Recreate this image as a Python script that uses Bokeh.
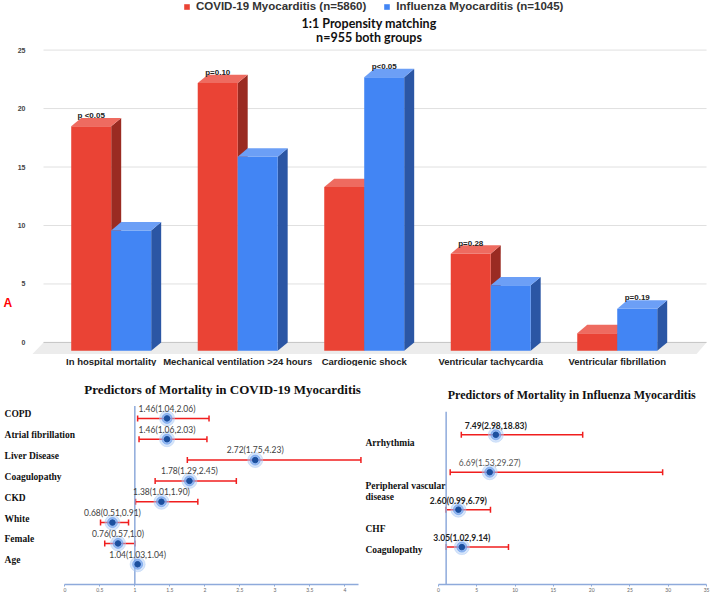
import numpy as np
from bokeh.plotting import figure
from bokeh.layouts import column, row
from bokeh.models import (ColumnDataSource, Range1d, FixedTicker, Label, Legend,
                          LegendItem, Whisker, TeeHead)
from bokeh.core.properties import value
from bokeh.embed import file_html
from bokeh.resources import INLINE

# ---------------- data: top 3D bar chart ----------------
categories = ["In hospital mortality", "Mechanical ventilation >24 hours",
              "Cardiogenic shock", "Ventricular tachycardia", "Ventricular fibrillation"]
covid_pct = [19.2, 22.9, 14.0, 8.3, 1.5]
influenza_pct = [10.3, 16.6, 23.4, 5.6, 3.6]
p_labels = ["p <0.05", "p=0.10", "p<0.05", "p=0.28", "p=0.19"]
p_on_series = ["covid", "covid", "influenza", "covid", "influenza"]
y_ticks = [0, 5, 10, 15, 20, 25]
series_names = ["COVID-19 Myocarditis (n=5860)", "Influenza Myocarditis (n=1045)"]
subtitle_lines = ["1:1 Propensity matching", "n=955 both groups"]

# ---------------- data: forest plot, COVID-19 ----------------
covid_title = "Predictors of Mortality in COVID-19 Myocarditis"
covid_predictors = ["COPD", "Atrial fibrillation", "Liver Disease", "Coagulopathy",
                    "CKD", "White", "Female", "Age"]
covid_or = [1.46, 1.46, 2.72, 1.78, 1.38, 0.68, 0.76, 1.04]
covid_lo = [1.04, 1.06, 1.75, 1.29, 1.01, 0.51, 0.57, 1.03]
covid_hi = [2.06, 2.03, 4.23, 2.45, 1.90, 0.91, 1.0, 1.04]
covid_or_labels = ["1.46(1.04,2.06)", "1.46(1.06,2.03)", "2.72(1.75,4.23)", "1.78(1.29,2.45)",
                   "1.38(1.01,1.90)", "0.68(0.51,0.91)", "0.76(0.57,1.0)", "1.04(1.03,1.04)"]
covid_x_ticks = [0, 0.5, 1, 1.5, 2, 2.5, 3, 3.5, 4]

# ---------------- data: forest plot, Influenza ----------------
flu_title = "Predictors of Mortality in Influenza Myocarditis"
flu_predictors = ["Arrhythmia", "Peripheral vascular\ndisease", "CHF", "Coagulopathy"]
flu_or = [7.49, 6.69, 2.60, 3.05]
flu_lo = [2.98, 1.53, 0.99, 1.02]
flu_hi = [18.83, 29.27, 6.79, 9.14]
flu_or_labels = ["7.49(2.98,18.83)", "6.69(1.53,29.27)", "2.60(0.99,6.79)", "3.05(1.02,9.14)"]
flu_x_ticks = [0, 5, 10, 15, 20, 25, 30, 35]

# ---------------- styles ----------------
RED, RED_TOP, RED_SIDE = "#EA4335", "#EE6B60", "#9A2B22"
BLUE, BLUE_TOP, BLUE_SIDE = "#4285F4", "#6C9FF6", "#2B56A4"
AXIS_BLUE = "#8EAADB"
ERR_RED = "#F01E1E"
BAR_W, DX, DY = 0.316, 0.079, 0.72

# =============== top figure ===============
TOP_H = 366
top = figure(width=712, height=TOP_H, x_range=Range1d(-0.875, 4.753),
             y_range=Range1d(-2.06, 29.24), output_backend="svg",
             toolbar_location=None, x_axis_location=None, y_axis_location=None,
             min_border_left=0, min_border_right=0, min_border_top=0, min_border_bottom=0)
top.grid.visible = False
top.outline_line_color = None
top.background_fill_color = "white"

# y tick labels
top.text(x=-0.678, y=y_ticks, text=[str(t) for t in y_ticks], text_align="right",
         text_baseline="middle", text_font=value("Liberation Sans"), text_font_style="bold",
         text_font_size="7px", text_color="#444444")

# floor
top.patch([-0.535, 4.706, 4.627, -0.622], [0, 0, -0.99, -0.99], fill_color="#ECECEC", line_color=None)
# gridlines
top.segment(x0=-0.535, x1=4.706, y0=y_ticks, y1=y_ticks,
            line_color=["#C4C4C4"] + ["#E0E0E0"] * (len(y_ticks) - 1), line_width=1)

xs = np.arange(len(categories), dtype=float)


def bar3d(fig, lefts, vals, front, topc, side):
    vals = np.array(vals, dtype=float)
    rights = lefts + BAR_W
    side_x = [[r, r + DX, r + DX, r] for r in rights]
    side_y = [[-DY, 0, v, v - DY] for v in vals]
    fig.patches(side_x, side_y, fill_color=side, line_color=None)
    src = ColumnDataSource(dict(left=lefts, right=rights, bottom=np.full(len(vals), -DY), top=vals - DY))
    rend = fig.quad(left="left", right="right", bottom="bottom", top="top", source=src,
                    fill_color=front, line_color=None)
    top_x = [[l, l + BAR_W, l + BAR_W + DX, l + DX] for l in lefts]
    top_y = [[v - DY, v - DY, v, v] for v in vals]
    fig.patches(top_x, top_y, fill_color=topc, line_color=None)
    return rend


r_covid = bar3d(top, xs - BAR_W, covid_pct, RED, RED_TOP, RED_SIDE)
r_flu = bar3d(top, xs, influenza_pct, BLUE, BLUE_TOP, BLUE_SIDE)

# p-value labels
p_x, p_y = [], []
for i, s in enumerate(p_on_series):
    if s == "covid":
        p_x.append(xs[i] - BAR_W / 2)
        p_y.append(covid_pct[i] + 0.2)
    else:
        p_x.append(xs[i] + BAR_W / 2)
        p_y.append(influenza_pct[i] + 0.2)
top.text(x=p_x, y=p_y, text=p_labels, text_align="center", text_baseline="middle",
         text_font=value("Liberation Sans"), text_font_style="bold", text_font_size="8px",
         text_color="#222222")

# category labels
top.text(x=xs, y=-1.62, text=categories, text_align="center", text_baseline="middle",
         text_font=value("Liberation Sans"), text_font_style="bold", text_font_size="9.5px",
         text_color="#222222")

# subtitles
for t, yy in zip(subtitle_lines, [27.26, 26.04]):
    top.add_layout(Label(x=2.038, y=yy, text=t, text_align="center", text_baseline="middle",
                         text_font="Lato", text_font_style="bold", text_font_size="12.5px",
                         text_color="#111111"))
# panel letter
top.text(x=[-0.851], y=[3.39], text=["A"], text_align="left", text_baseline="middle",
         text_font=value("Liberation Sans"), text_font_style="bold", text_font_size="12px",
         text_color="#FF0000")

legend = Legend(items=[LegendItem(label=series_names[0], renderers=[r_covid]),
                       LegendItem(label=series_names[1], renderers=[r_flu])],
                orientation="horizontal", location=(183, TOP_H - 12), padding=0, margin=0,
                spacing=17, label_standoff=6, glyph_width=7, glyph_height=7, label_height=10,
                label_text_font="Liberation Sans", label_text_font_style="bold",
                label_text_font_size="11.5px", label_text_color="#333333",
                background_fill_alpha=0, border_line_alpha=0)
top.add_layout(legend)


# =============== forest plots ===============
BOT_H = 228


def forest(width, x_range, y_range, x_ticks, bounds):
    f = figure(width=width, height=BOT_H, x_range=Range1d(*x_range), y_range=Range1d(*y_range),
               output_backend="svg", toolbar_location=None, y_axis_location=None,
               min_border_left=0, min_border_right=0, min_border_top=0, min_border_bottom=10)
    f.grid.visible = False
    f.outline_line_color = None
    ax = f.xaxis[0]
    ax.ticker = FixedTicker(ticks=x_ticks)
    ax.bounds = bounds
    ax.axis_line_color = AXIS_BLUE
    ax.axis_line_width = 1.5
    ax.major_tick_line_color = AXIS_BLUE
    ax.major_tick_in = 0
    ax.major_tick_out = 2
    ax.minor_tick_line_color = None
    ax.major_label_standoff = 1
    ax.major_label_text_font_size = "5px"
    ax.major_label_text_font = "Lato"
    ax.major_label_text_color = "#666666"
    return f


def draw_points(f, ors, ys):
    f.scatter(ors, ys, size=15, color="#A9C8F5", alpha=0.45)
    f.scatter(ors, ys, size=10, color="#6EA0EC", alpha=0.65)
    f.scatter(ors, ys, size=5.5, color="#1B4F9E")


# ---- left (COVID-19)
nL = len(covid_predictors)
yL = np.arange(nL, 0, -1, dtype=float)
left = forest(364, (-0.919, 4.281), (0.029, 10.49), covid_x_ticks, (0, 4.2))
left.segment(x0=1, x1=1, y0=8.6, y1=0.029, line_color=AXIS_BLUE, line_width=1.5)
srcL = ColumnDataSource(dict(y=yL, lo=covid_lo, hi=covid_hi))
left.add_layout(Whisker(source=srcL, base="y", lower="lo", upper="hi", dimension="width",
                        line_color=ERR_RED, line_width=1.5,
                        upper_head=TeeHead(size=6, line_color=ERR_RED, line_width=1.5),
                        lower_head=TeeHead(size=6, line_color=ERR_RED, line_width=1.5)))
draw_points(left, covid_or, yL)
left.text(x=covid_or, y=yL + 0.46, text=covid_or_labels, text_align="center", text_baseline="middle",
          text_font=value("Lato"), text_font_size="8.5px", text_color="#404040")
left.text(x=-0.861, y=yL + 0.19, text=covid_predictors, text_align="left", text_baseline="middle",
          text_font=value("Liberation Serif"), text_font_style="bold", text_font_size="9.5px",
          text_color="#111111")
left.add_layout(Label(x=2.253, y=9.38, text=covid_title, text_align="center", text_baseline="middle",
                      text_font="Liberation Serif", text_font_style="bold", text_font_size="13px",
                      text_color="#111111"))

# ---- right (Influenza)
nR = len(flu_predictors)
yR = np.arange(nR, 0, -1, dtype=float)
label_drop = [0.23, 0.51, 0.51, 0.08]
value_styles = ["bold", "normal", "bold", "bold"]
value_colors = ["#222222", "#555555", "#222222", "#222222"]
right = forest(348, (-9.66, 35.78), (0.001, 5.824), flu_x_ticks, (0, 35))
right.segment(x0=1, x1=1, y0=4.614, y1=0.001, line_color=AXIS_BLUE, line_width=1.5)
srcR = ColumnDataSource(dict(y=yR, lo=flu_lo, hi=flu_hi))
right.add_layout(Whisker(source=srcR, base="y", lower="lo", upper="hi", dimension="width",
                         line_color=ERR_RED, line_width=1.5,
                         upper_head=TeeHead(size=6, line_color=ERR_RED, line_width=1.5),
                         lower_head=TeeHead(size=6, line_color=ERR_RED, line_width=1.5)))
draw_points(right, flu_or, yR)
srcRT = ColumnDataSource(dict(x=flu_or, y=yR + 0.24, t=flu_or_labels, st=value_styles, c=value_colors))
right.text(x="x", y="y", text="t", source=srcRT, text_align="center", text_baseline="middle",
           text_font=value("Lato"), text_font_style="st", text_font_size="8.5px", text_color="c")
right.text(x=-9.53, y=yR - np.array(label_drop), text=flu_predictors, text_align="left",
           text_baseline="middle", text_font=value("Liberation Serif"), text_font_style="bold",
           text_font_size="9.5px", text_color="#111111", text_line_height=1.15)
right.add_layout(Label(x=17.4, y=5.076, text=flu_title, text_align="center", text_baseline="middle",
                       text_font="Liberation Serif", text_font_style="bold", text_font_size="12px",
                       text_color="#111111"))

layout = column(top, row(left, right))
open("out.html", "w").write(file_html(layout, INLINE))
